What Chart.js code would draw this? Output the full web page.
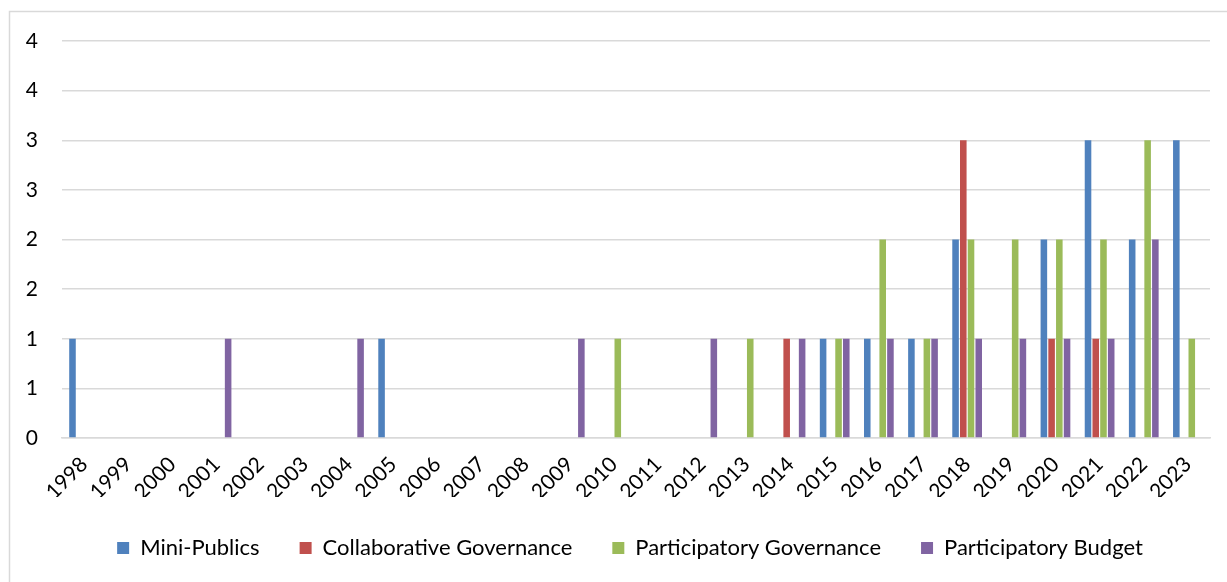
<!DOCTYPE html>
<html>
<head>
<meta charset="utf-8">
<script src="https://cdn.jsdelivr.net/npm/chart.js@4.4.0/dist/chart.umd.min.js"></script>
<style>
  body { margin: 0; background: white; }
  canvas { display: block; }
</style>
</head>
<body>
<canvas id="pubCanvas" width="1227" height="582"></canvas>
<script>
// years on the x axis
const years = ['1998', '1999', '2000', '2001', '2002', '2003', '2004', '2005', '2006', '2007', '2008', '2009', '2010',
  '2011', '2012', '2013', '2014', '2015', '2016', '2017', '2018', '2019', '2020', '2021', '2022', '2023'];

// publications per year, one array per approach
const miniPublics = [1, 0, 0, 0, 0, 0, 0, 1, 0, 0, 0, 0, 0, 0, 0, 0, 0, 1, 1, 1, 2, 0, 2, 3, 2, 3];
const collabGov = [0, 0, 0, 0, 0, 0, 0, 0, 0, 0, 0, 0, 0, 0, 0, 0, 1, 0, 0, 0, 3, 0, 1, 1, 0, 0];
const partGov = [0, 0, 0, 0, 0, 0, 0, 0, 0, 0, 0, 0, 1, 0, 0, 1, 0, 1, 2, 1, 2, 2, 2, 2, 3, 1];
const partBudget = [0, 0, 0, 1, 0, 0, 1, 0, 0, 0, 0, 1, 0, 0, 1, 0, 1, 1, 1, 1, 1, 1, 1, 1, 2, 0];

// y tick labels as shown (half steps rounded)
const yTickLabels = ['0', '1', '1', '2', '2', '3', '3', '4', '4'];

const fontName = 'Lato';

// light border around the whole chart
const borderPlugin = {
  id: 'outerBorder',
  beforeDraw: (chart) => {
    const ctx = chart.ctx;
    ctx.save();
    ctx.fillStyle = 'white';
    ctx.fillRect(0, 0, chart.width, chart.height);
    ctx.strokeStyle = '#d9d9d9';
    ctx.lineWidth = 1.5;
    ctx.strokeRect(9.5, 11.5, 1240, 600);
    ctx.restore();
  }
};

// nudging the legend a bit to the right, like the original
const legendShift = {
  id: 'legendShift',
  afterLayout: (chart) => {
    chart.legend.left += 25;
    chart.legend.right += 25;
  }
};

const data = {
  labels: years,
  datasets: [
    { label: 'Mini-Publics', data: miniPublics, backgroundColor: '#4F81BD' },
    { label: 'Collaborative Governance', data: collabGov, backgroundColor: '#C0504D' },
    { label: 'Participatory Governance', data: partGov, backgroundColor: '#9BBB59' },
    { label: 'Participatory Budget', data: partBudget, backgroundColor: '#8064A2' }
  ]
};

const options = {
  responsive: false,
  animation: false,
  datasets: {
    bar: {
      categoryPercentage: 0.7,
      barPercentage: 0.85,
      borderWidth: 0
    }
  },
  layout: {
    padding: { left: 0, right: 17, top: 41, bottom: 13 }
  },
  plugins: {
    tooltip: { enabled: false },
    legend: {
      position: 'bottom',
      labels: {
        color: '#000',
        boxWidth: 12,
        boxHeight: 12,
        padding: 40,
        font: { family: fontName, size: 22 }
      }
    }
  },
  scales: {
    x: {
      grid: { display: false },
      border: { color: '#d9d9d9', width: 1.5 },
      ticks: {
        color: '#000',
        minRotation: 45,
        maxRotation: 45,
        autoSkip: false,
        padding: 6,
        font: { family: fontName, size: 21 }
      },
      afterFit: (scale) => { scale.height = 59; }
    },
    y: {
      min: 0,
      max: 4,
      border: { display: false },
      grid: { color: '#d9d9d9', lineWidth: 1.5, drawTicks: false },
      ticks: {
        stepSize: 0.5,
        color: '#000',
        padding: 24,
        font: { family: fontName, size: 21 },
        callback: (value, index) => yTickLabels[index]
      },
      afterFit: (scale) => { scale.width = 62; }
    }
  }
};

const myChart = new Chart(document.getElementById('pubCanvas'), {
  type: 'bar',
  data: data,
  options: options,
  plugins: [borderPlugin, legendShift]
});
</script>
</body>
</html>
